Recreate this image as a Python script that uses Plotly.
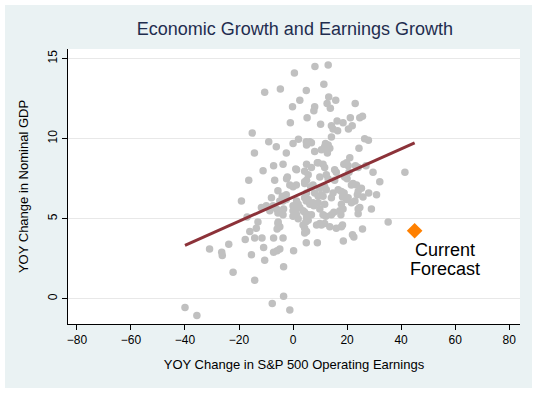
import plotly.graph_objects as go

# ---- data ----
earnings_growth = [
    13.0, 8.1, 0.5, 11.4, -10.5, -4.7, 4.9, 13.2, 15.8, 2.5, 23.0, 12.6, 13.8, -0.2, 8.0, 7.7,
    5.2, 21.2, 24.7, 25.7, 16.3, 18.5, -1.0, 10.2, 14.2, 21.9, 20.5, 16.5, 14.8, -15.1, 14.2,
    26.5, 27.9, 2.0, -9.0, 4.9, 6.8, 6.2, 5.0, -6.2, 0.0, 12.0, 13.0, 11.7, 13.6, 10.5, 8.0,
    24.4, 12.7, -14.3, -2.5,
    21.0, 9.0, 9.3, 5.0, 11.1, -7.2, -3.7, 11.7, 18.8, 19.8, 20.4, 23.1, 27.0, 1.0, -11.1, 6.8,
    15.4, 24.1, 16.0, 20.7, 29.6, 41.4, 5.6, 9.9, 12.3, -2.1, 12.96, 19.1, 20.0, -16.4, -6.8,
    -2.4, 4.3, 1.3, 15.4, 5.0,
    4.3, 22.2, 23.5, 32.1, -1.2, 0.0, 1.2, 4.3, 6.5, 7.4, 11.7, 21.6, -5.6, 9.9, 12.3, 16.7,
    17.9, 14.8, 18.9, 24.1, 25.3, -2.5, 8.0, 5.0, 23.8, 28.0, 30.9, -8.0, -4.0, 11.1, 9.3, 10.5,
    14.2, 20.4, 18.3, 25.9, 19.8, 4.9, 4.3, 5.6, -4.9, -3.7, -2.5, 1.3, -19.1, 22.9,
    9.3, 21.6, 17.9, -9.9, -7.4, 0.0, 1.9, 2.5, 7.7, 6.2, 7.4, 11.7, -3.5, 1.2, 3.7, 9.9, 24.1,
    24.7, 29.0, -5.6, -6.1, -8.6, -11.7, 15.1, 17.3, 18.5, 17.7, 14.2, 11.1, 5.6, 6.8, 4.3, 5.0,
    1.3, 0.0, -3.7, -17.0, 0.0, 1.9, 12.1, 24.1, -13.0, 4.7, -5.6, 9.9, 35.2, 3.7, 10.5, 13.6,
    16.0, 18.3, 11.7, 17.9, 8.7, 5.6, -5.5, -4.9, 4.3, 5.0, -5.9, 25.7, -16.0, 4.3, -13.6,
    -17.7, -14.2, -11.5, -7.2, -3.7, 22.0, 22.5, 4.9, 9.0, 18.6, -23.8, -30.9, -10.9, -26.4,
    -26.2, -7.2, -5.9, -4.9, 0.2, -15.4, -10.5, -3.5, -22.2, -14.2, -3.5, -7.7, -1.2, -40.0,
    -35.6,
]
gdp_growth = [
    14.6, 14.5, 14.1, 13.4, 12.9, 13.1, 13.0, 12.6, 12.4, 12.4, 12.2, 12.2, 11.9, 12.0, 12.0, 11.75,
    11.3, 11.3, 11.3, 11.4, 11.1, 11.0, 11.0, 10.9, 10.8, 10.8, 10.6, 10.5, 10.6, 10.35, 10.1,
    10.0, 9.9, 9.96, 9.8, 9.8, 9.75, 9.8, 9.6, 9.5, 9.7, 9.7, 9.6, 9.5, 9.4, 9.3, 9.2,
    9.4, 9.1, 9.1, 9.1,
    8.8, 8.5, 8.5, 8.4, 8.4, 8.3, 8.4, 8.2, 8.4, 8.5, 8.3, 8.3, 8.3, 8.1, 8.0, 8.2,
    8.06, 8.2, 7.9, 7.9, 7.9, 7.9, 7.75, 7.6, 7.75, 7.6, 7.5, 7.6, 7.5, 7.4, 7.4,
    7.5, 7.96, 8.06, 7.4, 7.4,
    7.3, 7.2, 7.1, 7.3, 7.1, 7.0, 7.1, 7.2, 7.0, 7.1, 7.0, 7.1, 6.75, 6.9, 6.8, 6.8,
    6.7, 6.6, 6.6, 6.7, 6.9, 6.5, 6.6, 6.6, 6.5, 6.6, 6.5, 6.3, 6.4, 6.4, 6.4, 6.5,
    6.3, 6.3, 6.35, 6.35, 6.2, 6.1, 6.3, 6.2, 6.1, 6.1, 6.2, 6.1, 6.1, 6.1,
    6.0, 6.0, 5.9, 5.8, 5.8, 5.8, 5.9, 5.7, 5.8, 5.9, 6.0, 5.9, 5.6, 5.6, 5.5, 5.6, 5.6,
    5.7, 5.6, 5.35, 5.6, 5.5, 5.7, 5.4, 5.5, 5.6, 5.25, 5.25, 5.25, 5.25, 5.25, 5.4, 5.1,
    5.25, 5.5, 5.25, 5.1, 5.15, 5.0, 5.15, 5.3, 4.8, 4.8, 4.7, 4.7, 4.8, 4.6, 4.6, 4.5,
    4.4, 4.6, 4.7, 4.5, 4.6, 4.9, 4.8, 4.5, 4.4, 4.2, 4.35, 4.35, 4.2, 4.1, 4.4,
    3.7, 3.8, 3.8, 3.8, 3.8, 4.0, 3.85, 3.5, 3.5, 3.6, 3.4, 3.1, 3.2, 2.9,
    2.7, 2.9, 3.0, 3.1, 3.0, 2.75, 2.4, 2.0, 1.65, 1.15, 0.15, -0.3, -0.7, -0.55,
    -1.05,
]

fit_x = [-40, 45]
fit_y = [3.33, 9.73]

forecast_x = [45]
forecast_y = [4.25]
forecast_label = ["Current", "Forecast"]

x_ticks = [-80, -60, -40, -20, 0, 20, 40, 60, 80]
y_ticks = [0, 5, 10, 15]

title_text = "Economic Growth and Earnings Growth"
x_title = "YOY Change in S&P 500 Operating Earnings"
y_title = "YOY Change in Nominal GDP"

FONT = "Arial, Liberation Sans, sans-serif"

fig = go.Figure()
fig.add_trace(go.Scatter(
    x=earnings_growth, y=gdp_growth, mode="markers",
    marker=dict(color="#C0C0C0", size=7.5, line=dict(width=0)),
    showlegend=False, hoverinfo="x+y",
))
fig.add_trace(go.Scatter(
    x=fit_x, y=fit_y, mode="lines",
    line=dict(color="#8C3239", width=3),
    showlegend=False,
))
fig.add_trace(go.Scatter(
    x=forecast_x, y=forecast_y, mode="markers",
    marker=dict(color="#FF8000", size=12, symbol="diamond", line=dict(width=0)),
    showlegend=False,
))

fig.add_annotation(x=56.2, y=3.06, text=forecast_label[0], showarrow=False,
                   font=dict(family=FONT, size=18, color="black"))
fig.add_annotation(x=56.2, y=1.85, text=forecast_label[1], showarrow=False,
                   font=dict(family=FONT, size=18, color="black"))

# background panels (outer bluish region, white plot region)
fig.add_shape(type="rect", xref="paper", yref="paper",
              x0=-0.1394, x1=1.0265, y0=-0.2327, y1=1.16,
              fillcolor="#EAF2F3", line=dict(width=0), layer="below")
fig.add_shape(type="rect", xref="paper", yref="paper",
              x0=0, x1=1, y0=0, y1=1,
              fillcolor="white", line=dict(width=0), layer="below")

fig.update_layout(
    width=537, height=393,
    margin=dict(l=68, r=17, t=49, b=69, autoexpand=False),
    paper_bgcolor="white", plot_bgcolor="white",
    font=dict(family=FONT, size=12, color="black"),
    title=dict(text=title_text, x=0.502, xref="paper", y=1 - 29 / 393, yref="container",
               xanchor="center", yanchor="middle", automargin=False,
               font=dict(family=FONT, size=18, color="#1F2D4F")),
    xaxis=dict(
        range=[-83.3, 84], tickmode="array", tickvals=x_ticks, automargin=False,
        ticks="outside", ticklen=5, tickcolor="black", tickwidth=1,
        showline=True, linecolor="black", linewidth=1,
        showgrid=False, zeroline=False,
        tickfont=dict(family=FONT, size=12, color="black"),
        title=dict(text=x_title, standoff=13, font=dict(family=FONT, size=13, color="black")),
    ),
    yaxis=dict(
        range=[-1.58, 15.6], tickmode="array", tickvals=y_ticks, automargin=False,
        ticks="outside", ticklen=5, tickcolor="black", tickwidth=1,
        showline=True, linecolor="black", linewidth=1,
        showgrid=True, gridcolor="#E8E8E8", gridwidth=1, zeroline=False,
        tickangle=-90,
        tickfont=dict(family=FONT, size=12, color="black"),
        title=dict(text=y_title, standoff=14, font=dict(family=FONT, size=13, color="black")),
    ),
)

fig.write_html(
    "out.html",
    config={"displayModeBar": False},
    post_script="document.body.style.margin='0';document.body.style.overflow='hidden';",
)
